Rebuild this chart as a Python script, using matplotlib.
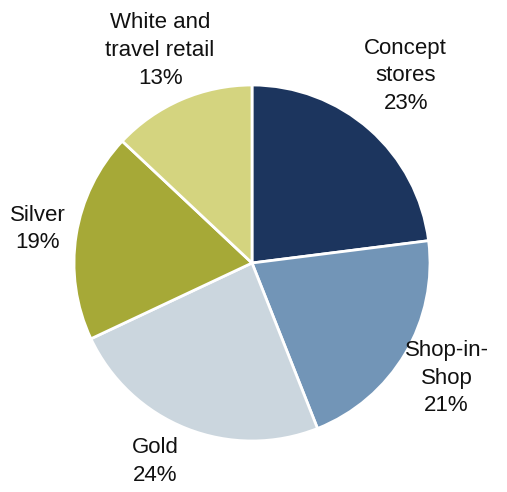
import numpy as np
import matplotlib.pyplot as plt

plt.rcParams['font.family'] = ['Liberation Sans', 'DejaVu Sans']

# channel shares, clockwise from 12 o'clock
channels = ['Concept\nstores', 'Shop-in-\nShop', 'Gold', 'Silver', 'White and\ntravel retail']
shares = [23, 21, 24, 19, 13]
colors = ['#1c355e', '#7295b7', '#cbd6de', '#a6a937', '#d4d47f']
label_dist = [1.36, 1.27, 1.24, 1.22, 1.30]
label_shift = [2, 0, -4.5, 0, 0]  # degrees

fig = plt.figure(figsize=(5.07, 4.92), dpi=100)
ax = fig.add_axes([0, 0, 1, 1])

cx, cy, r = 252, 229, 178
wedges, _ = ax.pie(shares, colors=colors, startangle=90, counterclock=False,
                   center=(cx, cy), radius=r,
                   wedgeprops=dict(edgecolor='white', linewidth=2))

# labels sit outside each wedge along its mid-angle
for w, name, val, d, s in zip(wedges, channels, shares, label_dist, label_shift):
    mid = np.deg2rad((w.theta1 + w.theta2) / 2 + s)
    x = cx + d * r * np.cos(mid)
    y = cy + d * r * np.sin(mid)
    ax.text(x, y, f'{name}\n{val}%', ha='center', va='center',
            fontsize=16, linespacing=1.42, color='#111111')

ax.set_xlim(0, 507)
ax.set_ylim(0, 492)
ax.set_aspect('equal')
ax.axis('off')

fig.savefig('out.png', dpi=100)
